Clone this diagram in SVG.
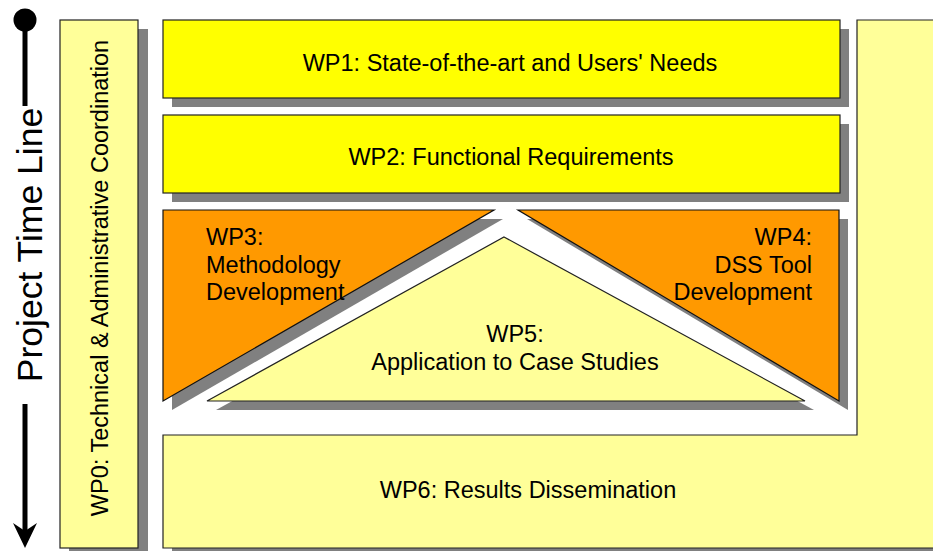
<svg xmlns="http://www.w3.org/2000/svg" width="933" height="551" viewBox="0 0 933 551">
<defs>
<style>
.sh{fill:#808080;stroke:none}
.y{fill:#FFFF00;stroke:#222;stroke-width:1.2}
.ly{fill:#FFFF99;stroke:#222;stroke-width:1.2}
.or{fill:#FF9900;stroke:#111;stroke-width:1.2}
.t{font-family:"Liberation Sans",Arial,sans-serif;font-size:23.5px;fill:#000}
.m{text-anchor:middle}
.e{text-anchor:end}
</style>
</defs>
<rect width="933" height="551" fill="#fff"/>
<g id="timeline">
<circle cx="25" cy="20" r="11.5" fill="#000"/>
<line x1="25" y1="20" x2="25" y2="106" stroke="#000" stroke-width="5"/>
<text class="t m" x="42" y="245" transform="rotate(-90 42 245)" style="font-size:35.5px">Project Time Line</text>
<line x1="25" y1="404" x2="25" y2="532" stroke="#000" stroke-width="5"/>
<polygon points="13,523 25,548 37,523 25,531" fill="#000"/>
</g>
<g id="wp0">
<rect class="sh" x="69" y="29" width="79" height="525"/>
<rect class="ly" x="60" y="20" width="78" height="528"/>
<text class="t m" x="108" y="278" transform="rotate(-90 108 278)">WP0: Technical &amp; Administrative Coordination</text>
</g>
<g id="wp6">
<path class="sh" d="M866,29 H950 V557 H172 V444 H866 Z"/>
<path class="ly" d="M857,20 H940 V548 H163 V435 H857 Z" stroke-width="1.8" stroke="#333"/>
<text class="t m" x="528" y="498">WP6: Results Dissemination</text>
</g>
<g id="wp1">
<rect class="sh" x="172" y="29" width="677" height="78"/>
<rect class="y" x="163" y="20" width="677" height="78"/>
<text class="t m" x="510" y="71">WP1: State-of-the-art and Users' Needs</text>
</g>
<g id="wp2">
<rect class="sh" x="172" y="124" width="677" height="78"/>
<rect class="y" x="163" y="115" width="677" height="78"/>
<text class="t m" x="511" y="165">WP2: Functional Requirements</text>
</g>
<g id="wp3">
<polygon class="sh" points="172,219 503,219 172,410"/>
<polygon class="or" points="163,210 494,210 163,401"/>
<text class="t" x="206" y="245">WP3:</text>
<text class="t" x="206" y="273">Methodology</text>
<text class="t" x="206" y="300">Development</text>
</g>
<g id="wp4">
<polygon class="sh" points="527,219 848,219 848,410"/>
<polygon class="or" points="518,210 839,210 839,401"/>
<text class="t e" x="812" y="245">WP4:</text>
<text class="t e" x="812" y="273">DSS Tool</text>
<text class="t e" x="812" y="300">Development</text>
</g>
<g id="wp5">
<polygon class="sh" points="513,246 814,410 216,410"/>
<polygon class="ly" points="504,237 805,401 207,401"/>
<text class="t m" x="515" y="342">WP5:</text>
<text class="t m" x="515" y="370">Application to Case Studies</text>
</g>
<g id="connectors"></g>
</svg>
